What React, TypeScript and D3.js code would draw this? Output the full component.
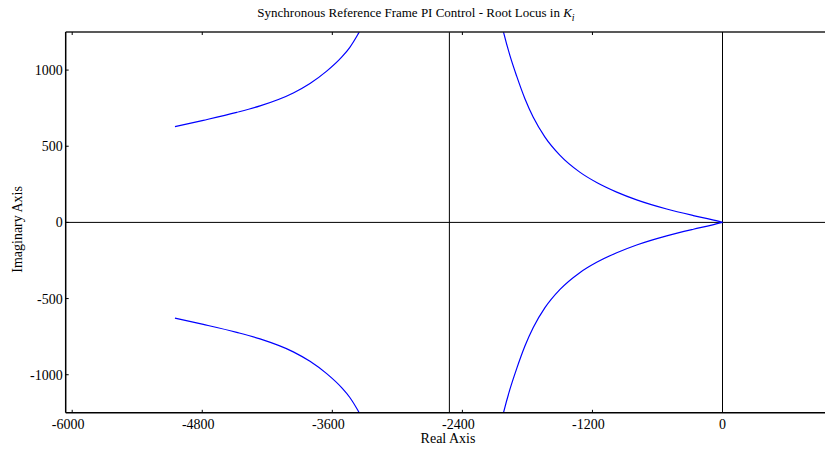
import React from "react";
import * as d3 from "d3";

const xTicks = [-6000, -4800, -3600, -2400, -1200, 0];
const yTicks = [-1000, -500, 0, 500, 1000];

// Upper-left branch
const b1Re = [-5052, -4790, -4482, -4267, -3960, -3806, -3652, -3514, -3440, -3366, -3300];
const b1Im = [629, 670, 722, 765, 850, 912, 993, 1085, 1148, 1232, 1320];
// Lower-left branch
const b2Re = [-5052, -4790, -4482, -4267, -3960, -3806, -3652, -3514, -3440, -3366, -3300];
const b2Im = [-629, -670, -722, -765, -850, -912, -993, -1085, -1148, -1232, -1320];
// Upper-right branch
const b3Re = [-2070, -2022, -1961, -1899, -1822, -1746, -1638, -1499, -1317, -1161, -976, -792, -515, -269, -100, 0];
const b3Im = [1400, 1253, 1095, 960, 810, 690, 560, 440, 330, 262, 199, 148, 88, 45, 18, 0];
// Lower-right branch
const b4Re = [-2070, -2022, -1961, -1899, -1822, -1746, -1638, -1499, -1317, -1161, -976, -792, -515, -269, -100, 0];
const b4Im = [-1400, -1253, -1095, -960, -810, -690, -560, -440, -330, -262, -199, -148, -88, -45, -18, 0];

const vLineRe = -2520;

const W = 825;
const H = 450;

export default function App() {
  const x = d3.scaleLinear().domain([-6060, 0]).range([65.7, 722.5]);
  const y = d3.scaleLinear().domain([-1250, 1250]).range([412.8, 32]);
  const left = x(-6060);
  const top = y(1250);
  const bottom = y(-1250);
  const right = W;

  const line = d3
    .line<[number, number]>()
    .x((d) => x(d[0]))
    .y((d) => y(d[1]))
    .curve(d3.curveMonotoneX);

  const branches = [
    [b1Re, b1Im],
    [b2Re, b2Im],
    [b3Re, b3Im],
    [b4Re, b4Im],
  ];

  const font = "'Liberation Serif', 'Times New Roman', serif";

  return (
    <svg
      width={W}
      height={H}
      style={{ position: "absolute", left: 0, top: 0, background: "#fff" }}
      fontFamily={font}
    >
      <defs>
        <clipPath id="plot">
          <rect x={left} y={top} width={right - left} height={bottom - top} />
        </clipPath>
      </defs>
      <rect x={0} y={0} width={W} height={H} fill="#fff" />
      <line x1={left} x2={right} y1={y(0)} y2={y(0)} stroke="#000" strokeWidth={1} />
      <line x1={x(0)} x2={x(0)} y1={top} y2={bottom} stroke="#000" strokeWidth={1} />
      <line x1={x(vLineRe)} x2={x(vLineRe)} y1={top} y2={bottom} stroke="#000" strokeWidth={1} />
      <g clipPath="url(#plot)">
        {branches.map(([re, im], i) => (
          <path
            key={i}
            d={line(re.map((r, j) => [r, im[j]] as [number, number])) || ""}
            fill="none"
            stroke="#0000ff"
            strokeWidth={1.2}
          />
        ))}
      </g>
      <line x1={left} x2={right} y1={top} y2={top} stroke="#222" strokeWidth={1.5} />
      <line x1={left} x2={right} y1={bottom} y2={bottom} stroke="#000" strokeWidth={1.5} />
      <line x1={left} x2={left} y1={top} y2={bottom} stroke="#000" strokeWidth={1.5} />
      {xTicks.map((t) => (
        <g key={"x" + t}>
          <line x1={x(t)} x2={x(t)} y1={top} y2={top + 3} stroke="#000" />
          <line x1={x(t)} x2={x(t)} y1={bottom} y2={bottom - 3} stroke="#000" />
          <text
            x={x(t) - (t < 0 ? 4 : 0)}
            y={bottom + 16}
            textAnchor="middle"
            fontSize={14}
            fill="#000"
          >
            {t}
          </text>
        </g>
      ))}
      {yTicks.map((t) => (
        <g key={"y" + t}>
          <line x1={left} x2={left + 3} y1={y(t)} y2={y(t)} stroke="#000" />
          <text x={left - 3} y={y(t) + 5} textAnchor="end" fontSize={14} fill="#000">
            {t}
          </text>
        </g>
      ))}
      <text x={448} y={443} textAnchor="middle" fontSize={14} fill="#000">
        Real Axis
      </text>
      <text
        transform={`translate(22, ${(top + bottom) / 2 + 7}) rotate(-90)`}
        textAnchor="middle"
        fontSize={14}
        fill="#000"
      >
        Imaginary Axis
      </text>
      <text x={416} y={17} textAnchor="middle" fontSize={13} fill="#000">
        Synchronous Reference Frame PI Control - Root Locus in{" "}
        <tspan fontStyle="italic">K</tspan>
        <tspan fontStyle="italic" fontSize={10} dy={4}>
          i
        </tspan>
      </text>
    </svg>
  );
}
